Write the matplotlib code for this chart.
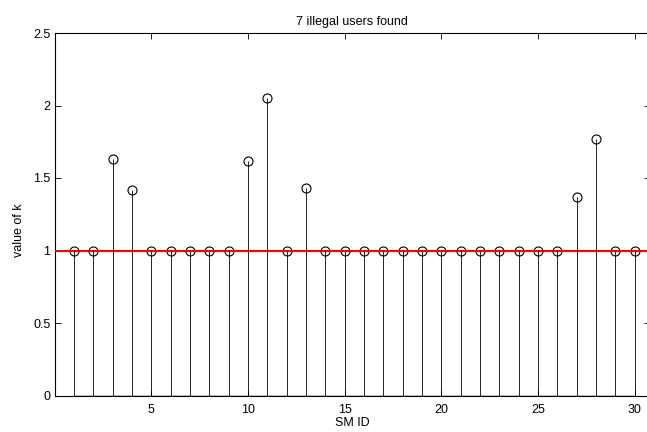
import numpy as np
import matplotlib.pyplot as plt

plt.rcParams['font.family'] = ['Liberation Sans', 'DejaVu Sans']

# ---------- Data ----------
sm_id = np.arange(1, 31)
k_values = [1, 1, 1.633, 1.419, 1, 1, 1, 1, 1, 1.619,
            2.05, 1, 1.43, 1, 1, 1, 1, 1, 1, 1,
            1, 1, 1, 1, 1, 1, 1.371, 1.767, 1, 1]
threshold = 1.0

# ---------- Plot ----------
fig = plt.figure(figsize=(6.47, 4.32), dpi=100)
ax = fig.add_axes([54.5 / 647, 36.5 / 432, (650 - 54.5) / 647, (395.5 - 33) / 432])

markerline, stemlines, baseline = ax.stem(sm_id, k_values, basefmt='k-')
plt.setp(stemlines, color='black', linewidth=0.6)
plt.setp(markerline, marker='o', markersize=6.5, markerfacecolor='none',
         markeredgecolor='black', markeredgewidth=0.8)
plt.setp(baseline, linewidth=1.0)

ax.axhline(threshold, color='red', linewidth=1.5, zorder=4)

ax.set_xlim(0, 30.8)
ax.set_ylim(0, 2.5)
ax.set_xticks([5, 10, 15, 20, 25, 30])
ax.set_yticks([0, 0.5, 1, 1.5, 2, 2.5])
ax.set_yticklabels(['0', '0.5', '1', '1.5', '2', '2.5'])
ax.tick_params(direction='in', top=True, right=True, labelsize=9, length=4, width=0.6)
ax.tick_params(axis='x', pad=6)
ax.tick_params(axis='y', pad=3)
for s in ax.spines.values():
    s.set_linewidth(0.8)

ax.set_xlabel('SM ID', fontsize=9, labelpad=1)
ax.set_ylabel('value of k', fontsize=9)
ax.yaxis.set_label_coords(-0.05, 0.455)
ax.set_title('7 illegal users found', fontsize=9, pad=6)

fig.savefig('out.png', dpi=100)
